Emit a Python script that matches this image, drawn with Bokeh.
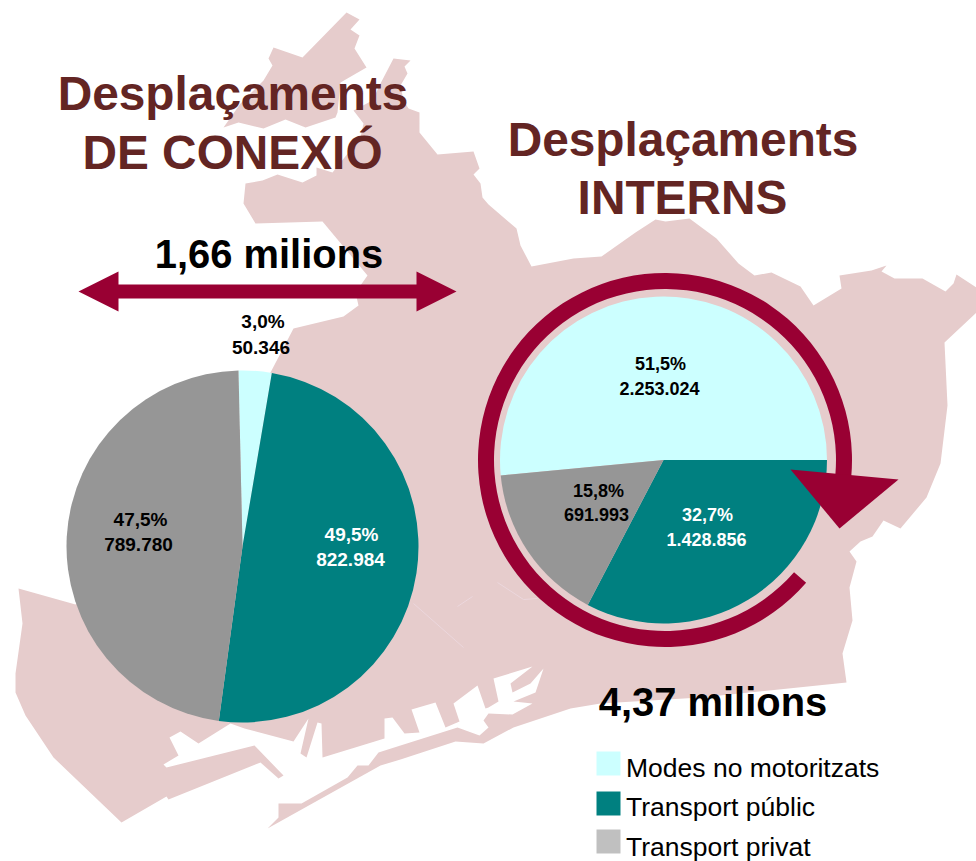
import math
from bokeh.plotting import figure
from bokeh.core.properties import value
from bokeh.embed import file_html
from bokeh.resources import INLINE

# ---- data ----
categories = ["Modes no motoritzats", "Transport públic", "Transport privat"]
conexio_values = [50346, 822984, 789780]
conexio_pct = ["3,0%", "49,5%", "47,5%"]
conexio_num = ["50.346", "822.984", "789.780"]
interns_values = [2253024, 1428856, 691993]
interns_pct = ["51,5%", "32,7%", "15,8%"]
interns_num = ["2.253.024", "1.428.856", "691.993"]
pie_colors = ["#CCFFFF", "#008080", "#969696"]
legend_colors = ["#CCFFFF", "#008080", "#C0C0C0"]

# ---- background map outline, traced in picture pixels ----
map_main = [(393,58),(410,60),(404,66),(407,73),(400,85),(403,100),(408,108),(419,112),(419,132),
    (437,154),(473,151),(479,168),(473,174),(480,183),(482,197),(488,204),(516,228),(520,245),
    (531,266),(573,258),(601,256),(635,232),(655,219),(665,221),(689,218),(716,238),(738,263),
    (754,275),(771,272),(800,286),(813,305),(841,288),(839,275),(871,270),(886,265),(881,271),
    (894,278),(922,278),(945,291),(953,283),(956,274),(976,287),(976,312),(944,342),(947,405),
    (944,430),(940,463),(926,497),(900,528),(883,520),(872,536),(860,541),(849,551),(856,561),
    (849,587),(852,620),(842,653),(846,682),(700,697),(600,703),(570,708),(513,727),(483,743),
    (455,741),(400,759),(380,765),(267,828),(278,817),(278,803),(301,803),(347,777),(357,765),
    (368,765),(378,752),(400,745),(457,727),(479,735),(488,727),(483,720),(488,713),(512,714),
    (532,703),(513,701),(535,692),(543,668),(530,683),(512,692),(510,683),(532,666),(493,678),
    (498,701),(488,707),(485,708),(477,685),(453,703),(459,721),(445,727),(435,702),(411,709),
    (419,732),(404,733),(392,717),(384,718),(384,738),(322,757),(321,723),(317,722),(306,757),
    (300,753),(308,718),(293,741),(244,728),(230,723),(198,743),(180,731),(169,737),(178,755),
    (163,764),(166,767),(254,745),(283,775),(278,778),(260,762),(168,799),(166,796),(121,822),
    (53,757),(25,715),(15,692),(15,673),(22,623),(18,588),(75,604),(200,500),(270,372),(293,328),
    (343,316),(358,305),(355,292),(367,275),(322,221),(255,223),(243,203),(245,183),(262,180),
    (277,174),(302,182),(316,175),(316,167),(332,172),(360,137),(363,123),(353,110),(372,100),(380,83)]
map_lobe = [(346,12),(359,19),(350,29),(359,35),(354,48),(366,67),(340,82),(337,112),(335,117),
    (305,127),(285,119),(263,128),(238,122),(223,127),(240,103),(263,80),(272,65),(268,58),(273,47),(302,57)]
map_faint = [[(413,603),(463,647)], [(457,606),(472,596)], [(497,582),(523,599),(537,598)]]

WIDTH, HEIGHT = 976, 861

def Y(v):
    return 861 - v

p = figure(width=WIDTH, height=HEIGHT, x_range=(0, 976), y_range=(0, 861),
           output_backend="svg", toolbar_location=None, min_border=0)
p.axis.visible = False
p.grid.visible = False
p.outline_line_color = None
p.background_fill_color = "white"
p.border_fill_color = "white"

MAP = "#E6CCCC"
p.patch([a for a, _ in map_main], [Y(b) for _, b in map_main], fill_color=MAP, line_color=None)
p.patch([a for a, _ in map_lobe], [Y(b) for _, b in map_lobe], fill_color=MAP, line_color=None)
p.multi_line([[a for a, _ in s] for s in map_faint], [[Y(b) for _, b in s] for s in map_faint],
             line_color="#ECD7DD", line_width=1)


def draw_pie(cx, cy, r, values, rotation):
    """Wedges run clockwise from `rotation` degrees off twelve o'clock."""
    total = sum(values)
    pos = rotation
    for v, c in zip(values, pie_colors):
        sweep = 360 * v / total
        start = math.radians(90 - pos)
        end = math.radians(90 - pos - sweep)
        p.wedge(x=[cx], y=[Y(cy)], radius=r, start_angle=[end], end_angle=[start],
                fill_color=c, line_color=None)
        pos += sweep


draw_pie(242, 546, 176, conexio_values, -1.3)
draw_pie(663, 459.5, 163.5, interns_values, 90 - 360 * interns_values[0] / sum(interns_values))

ARROW = "#990033"
# circular arrow
p.annular_wedge(x=[664.5], y=[Y(459.5)], inner_radius=171, outer_radius=187,
                start_angle=[math.radians(-5)], end_angle=[math.radians(-41)],
                fill_color=ARROW, line_color=None)
head = [(790,469),(898,479),(839,528)]
p.patch([a for a, _ in head], [Y(b) for _, b in head], fill_color=ARROW, line_color=None)
# double arrow
dbl = [(78,291),(118,271),(118,284),(416,284),(416,271),(456,291),(416,311),(416,298),(118,298),(118,311)]
p.patch([a for a, _ in dbl], [Y(b) for _, b in dbl], fill_color=ARROW, line_color=None)


def label(x, y, s, size, color, bold=True, align="center"):
    # the renderer sets alphabetic text a little low: lift it by an amount that grows with size
    lift = 0.25 * size + 3.5
    p.text(x=[x], y=[Y(y - lift)], text=[s], text_font=value("Liberation Sans"),
           text_font_size=f"{size}px", text_font_style="bold" if bold else "normal",
           text_color=color, text_align=align, text_baseline="alphabetic")


TITLE = "#632523"
label(232.5, 108, "Desplaçaments", 47.8, TITLE)
label(232, 167, "DE CONEXIÓ", 47.8, TITLE)
label(682.5, 154, "Desplaçaments", 47.8, TITLE)
label(682, 212, "INTERNS", 47.8, TITLE)
label(268.5, 267, "1,66 milions", 39.9, "black")
label(712.5, 715, "4,37 milions", 39.9, "black")

PL = 18
PL_LEFT = 19
label(262.5, 329, conexio_pct[0], PL_LEFT, "black")
label(260.5, 355, conexio_num[0], PL_LEFT, "black")
label(351, 542, conexio_pct[1], PL_LEFT, "white")
label(350, 567, conexio_num[1], PL_LEFT, "white")
label(140, 527, conexio_pct[2], PL_LEFT, "black")
label(138, 552, conexio_num[2], PL_LEFT, "black")
label(660, 371, interns_pct[0], PL, "black")
label(659, 396, interns_num[0], PL, "black")
label(707, 522, interns_pct[1], PL, "white")
label(706, 547, interns_num[1], PL, "white")
label(598, 498, interns_pct[2], PL, "black")
label(596, 522, interns_num[2], PL, "black")

# legend
swatch_tops = [751, 791, 829]
text_bases = [778, 817, 857]
for name, col, t, b in zip(categories, legend_colors, swatch_tops, text_bases):
    p.quad(left=[596], right=[620], top=[Y(t)], bottom=[Y(t + 24)], fill_color=col, line_color=None)
    label(625.5, b, name, 26.5, "black", bold=False, align="left")

open("out.html", "w").write(file_html(p, INLINE))
